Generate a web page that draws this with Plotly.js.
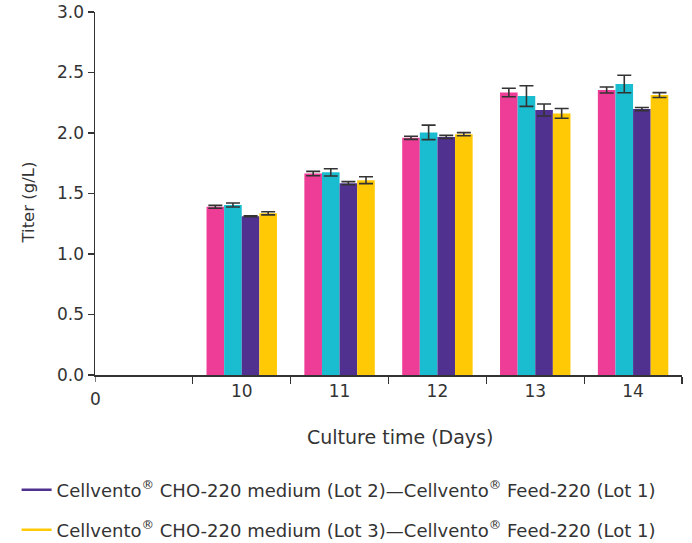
<!DOCTYPE html>
<html>
<head>
<meta charset="utf-8">
<script src="https://cdn.plot.ly/plotly-3.0.1.min.js"></script>
<style>html,body{margin:0;padding:0;background:#fff;}#chart{width:692px;height:543px;}</style>
</head>
<body>
<div id="chart"></div>
<script>
const days = ['10', '11', '12', '13', '14'];
const names = [
  'Cellvento® CHO-220 medium (Lot 1)—Cellvento® Feed-220 (Lot 1)',
  'Cellvento® CHO-220 medium (Lot 1)—Cellvento® Feed-220 (Lot 2)',
  'Cellvento<sup>®</sup> CHO-220 medium (Lot 2)—Cellvento<sup>®</sup> Feed-220 (Lot 1)',
  'Cellvento<sup>®</sup> CHO-220 medium (Lot 3)—Cellvento<sup>®</sup> Feed-220 (Lot 1)'
];
const xTitle = 'Culture time (Days)';
const yTitle = 'Titer (g/L)';
const zeroLabel = '0';
const titerA = [1.39, 1.665, 1.96, 2.335, 2.355];
const titerB = [1.405, 1.675, 2.005, 2.305, 2.405];
const titerC = [1.312, 1.585, 1.967, 2.19, 2.198];
const titerD = [1.336, 1.61, 1.99, 2.162, 2.314];
const errA = [0.012, 0.018, 0.013, 0.035, 0.025];
const errB = [0.017, 0.03, 0.06, 0.085, 0.072];
const errC = [0.004, 0.013, 0.013, 0.05, 0.013];
const errD = [0.013, 0.028, 0.013, 0.04, 0.02];
const colors = ['#EE3D96', '#1ABDCF', '#51318F', '#FFCA05'];

const values = [titerA, titerB, titerC, titerD];
const errs = [errA, errB, errC, errD];
const font = 'DejaVu Sans, Verdana, sans-serif';
const ink = '#333333';

const traces = values.map((v, i) => ({
  type: 'bar', x: days, y: v, name: names[i], showlegend: false,
  marker: {color: colors[i], line: {width: 0}},
  error_y: {type: 'data', array: errs[i], visible: true, color: ink, thickness: 1.6, width: 7}
}));
// legend entries (line symbols)
traces.push({type: 'scatter', mode: 'lines', x: [null], y: [null], name: names[2],
  line: {color: colors[2], width: 2.5}, legend: 'legend', hoverinfo: 'skip'});
traces.push({type: 'scatter', mode: 'lines', x: [null], y: [null], name: names[3],
  line: {color: colors[3], width: 2.5}, legend: 'legend2', hoverinfo: 'skip'});

const legendBase = {
  xref: 'container', yref: 'container', xanchor: 'left', yanchor: 'middle',
  x: 0.024, bgcolor: 'rgba(0,0,0,0)', font: {family: font, size: 18, color: ink}, itemwidth: 30
};

const layout = {
  width: 692, height: 543,
  margin: {l: 95, r: 10, t: 12, b: 168, autoexpand: false},
  paper_bgcolor: '#fff', plot_bgcolor: '#fff',
  font: {family: font, size: 17, color: ink},
  barmode: 'group', bargap: 0.28, bargroupgap: 0,
  xaxis: {
    type: 'category', range: [-1.5, 4.5], tickson: 'boundaries',
    ticks: 'outside', ticklen: 7, tickcolor: ink, tickwidth: 1.3,
    showline: true, linecolor: ink, linewidth: 1.5, showgrid: false, zeroline: false,
    tickfont: {family: font, size: 17, color: ink}, tickangle: 0,
    fixedrange: true, automargin: false
  },
  yaxis: {
    range: [0, 3.0], tick0: 0, dtick: 0.5, tickformat: '.1f',
    ticks: 'outside', ticklen: 6, tickcolor: ink, tickwidth: 1.3,
    showline: true, linecolor: ink, linewidth: 1.5, showgrid: false, zeroline: false,
    tickfont: {family: font, size: 17, color: ink},
    fixedrange: true, automargin: false
  },
  shapes: [{
    type: 'line', xref: 'x', x0: -1.5, x1: -1.5, yref: 'paper', ysizemode: 'pixel',
    yanchor: 0, y0: 0, y1: -7, line: {color: ink, width: 1.3}
  }],
  annotations: [
    {xref: 'x', yref: 'paper', x: -1.5, y: 0, yshift: -24, text: zeroLabel, showarrow: false,
     font: {family: font, size: 17, color: ink}, xanchor: 'center', yanchor: 'middle'},
    {xref: 'paper', yref: 'paper', x: 0.5, xshift: 11, y: 0, yshift: -62, text: xTitle, showarrow: false,
     font: {family: font, size: 19, color: ink}, xanchor: 'center', yanchor: 'middle'},
    {xref: 'paper', yref: 'paper', x: 0, xshift: -67, y: 0.5, yshift: -9, text: yTitle, showarrow: false,
     textangle: -90, font: {family: font, size: 16.5, color: ink}, xanchor: 'center', yanchor: 'middle'}
  ],
  legend: Object.assign({}, legendBase, {y: 1 - 490 / 543}),
  legend2: Object.assign({}, legendBase, {y: 1 - 530 / 543})
};

Plotly.newPlot('chart', traces, layout, {displayModeBar: false, staticPlot: true});
</script>
</body>
</html>
